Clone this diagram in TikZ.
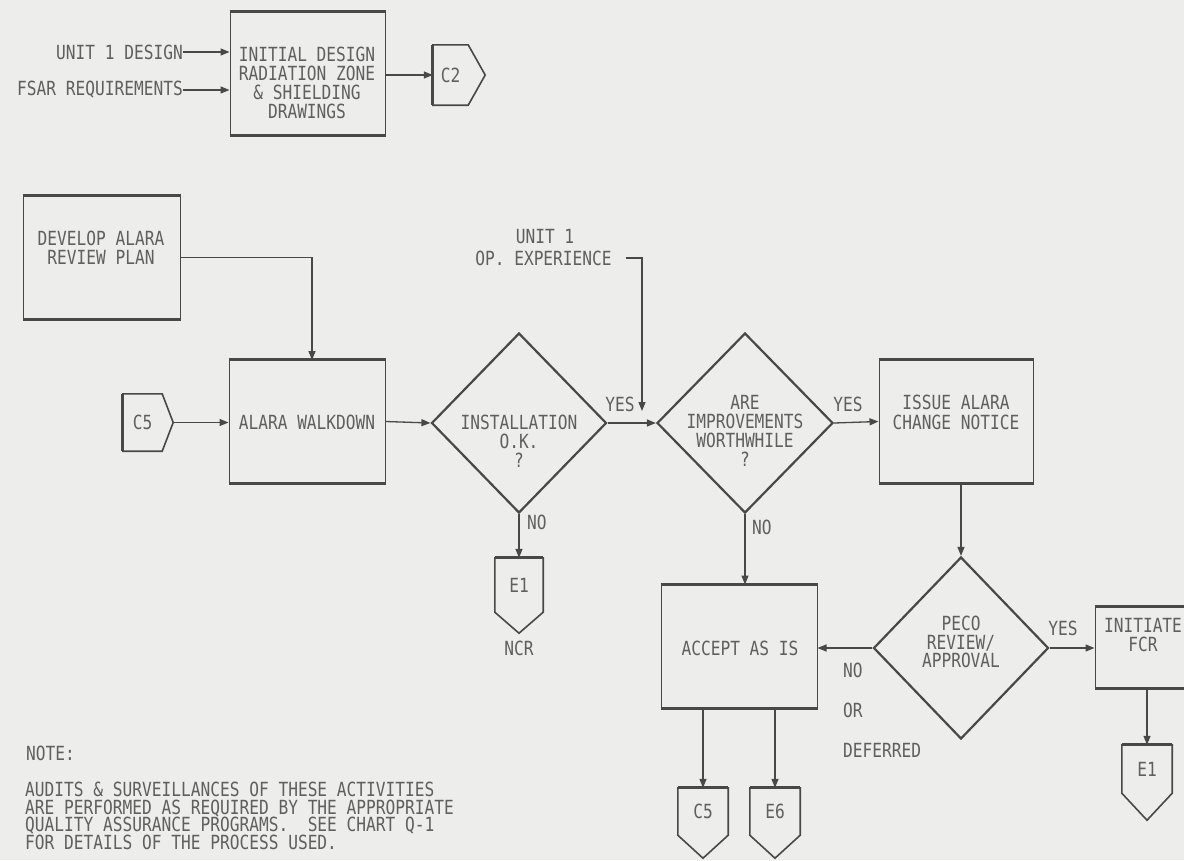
\documentclass[tikz,border=0pt]{standalone}
\usepackage{fontspec}
\newfontfamily\plotfont[FakeStretch=0.83]{DejaVu Sans Mono}
\usetikzlibrary{shapes.geometric,arrows.meta,calc}
\definecolor{bgc}{RGB}{237,237,235}
\definecolor{linec}{RGB}{72,72,72}
\definecolor{txtc}{RGB}{95,95,95}
\newcommand\PentRight[2]{%
  \draw[pent] (#1.north west) -- (#1.north east) -- ($(#1.east)+(#2,0)$) -- (#1.south east) -- (#1.south west) -- cycle;
  \draw[rim] (#1.north west) -- (#1.south west);}
\newcommand\PentDown[2]{%
  \draw[pent] (#1.north west) -- (#1.north east) -- (#1.south east) -- ($(#1.south)+(0,#2)$) -- (#1.south west) -- cycle;
  \draw[rim] (#1.north west) -- (#1.north east);}
\newcommand\BoxRims[1]{%
  \draw[rim] (#1.north west) -- (#1.north east);
  \draw[rim] (#1.south west) -- (#1.south east);}
\begin{document}
\begin{tikzpicture}[x=1pt,y=-1pt,
  txt/.style={font=\plotfont\fontsize{19.5}{19}\selectfont, text=txtc, inner sep=0pt, align=center},
  boxn/.style={draw=linec, line width=1pt, inner sep=0pt},
  rim/.style={draw=linec, line width=3pt},
  dia/.style={diamond, draw=linec, line width=2.2pt, inner sep=0pt},
  arr/.style={draw=linec, line width=1.3pt, -{Triangle[length=9pt,width=7pt]}},
  conn/.style={rectangle, inner sep=0pt, font=\plotfont\fontsize{19.5}{19}\selectfont, text=txtc},
  pent/.style={draw=linec, line width=1.6pt}]
\useasboundingbox (0,0) rectangle (1184,860);
\fill[bgc] (0,0) rectangle (1184,860);
\clip (0,0) rectangle (1184,860);

% top section
\node[txt, anchor=east] (unit) at (183,52) {UNIT 1 DESIGN};
\node[txt, anchor=east] (fsar) at (183,90) {FSAR REQUIREMENTS};
\node[boxn, minimum width=155, minimum height=123] (b0) at (307.5,73.5) {};
\BoxRims{b0}
\node[txt] (b0t) at (307,83) {INITIAL DESIGN\\RADIATION ZONE\\\& SHIELDING\\DRAWINGS};
\draw[arr] (unit.east) -- (unit.east -| b0.west);
\draw[arr] (fsar.east) -- (fsar.east -| b0.west);
\node[conn, minimum width=35, minimum height=60] (c2) at (450.5,75) {C2};
\PentRight{c2}{17}
\draw[arr] (b0.east |- c2.west) -- (c2.west);

% develop and walkdown
\node[boxn, minimum width=157, minimum height=123] (dev) at (101.5,257.5) {};
\BoxRims{dev}
\node[txt] (devt) at (101,248) {DEVELOP ALARA\\REVIEW PLAN};
\node[boxn, minimum width=156, minimum height=123] (walk) at (307,421.5) {};
\BoxRims{walk}
\node[txt] (walkt) at (307,422) {ALARA WALKDOWN};
\coordinate (walkin) at (312,360);
\draw[arr] (dev.east) -| (walkin);
\node[conn, minimum width=39, minimum height=57] (c5a) at (142.5,422.5) {C5};
\PentRight{c5a}{11}
\draw[arr] ($(c5a.east)+(11,0)$) -- (c5a.east -| walk.west);

% decisions
\node[dia, minimum width=175, minimum height=180] (d1) at (519,423) {};
\node[txt] (d1t) at (519,441) {INSTALLATION\\O.K.\\?};
\node[dia, minimum width=176, minimum height=180] (d2) at (745,423) {};
\node[txt] (d2t) at (745,431) {ARE\\IMPROVEMENTS\\WORTHWHILE\\?};
\draw[arr] (walk.east) -- (d1.west);
\draw[arr] (d1.east) -- (d2.west);
\node[txt] (yes1) at (620,404) {YES};
\node[txt] (unit1) at (545,237) {UNIT 1};
\node[txt] (opx) at (543.5,258) {OP. EXPERIENCE};
\coordinate (opin) at (642,411);
\draw[arr] ($(opx.east)+(14,0)$) -| (opin);

% E1 / NCR
\node[conn, minimum width=48, minimum height=54] (e1a) at (519,585) {E1};
\PentDown{e1a}{21}
\draw[arr] (d1.south) -- (e1a.north);
\node[txt, anchor=west] (no1) at (527,522) {NO};
\node[txt] (ncr) at (519,648) {NCR};

% issue
\node[boxn, minimum width=154, minimum height=123] (iss) at (956,421.5) {};
\BoxRims{iss}
\node[txt, font=\plotfont\fontsize{19.5}{20}\selectfont] (isst) at (956,412) {ISSUE ALARA\\CHANGE NOTICE};
\draw[arr] (d2.east) -- (iss.west);
\node[txt] (yes2) at (848,404) {YES};

% PECO
\node[dia, minimum width=175, minimum height=182] (d3) at (961,648) {};
\node[txt, font=\plotfont\fontsize{19.5}{18.5}\selectfont] (d3t) at (961,642) {PECO\\REVIEW/\\APPROVAL};
\draw[arr] (iss.south -| d3.north) -- (d3.north);

% accept
\node[boxn, minimum width=156, minimum height=123] (acc) at (739,646.5) {};
\BoxRims{acc}
\node[txt] (acct) at (740,648) {ACCEPT AS IS};
\draw[arr] (d2.south) -- (d2.south |- acc.north);
\node[txt, anchor=west] (no2) at (752,527) {NO};
\draw[arr] (d3.west) -- (d3.west -| acc.east);
\node[txt, anchor=west] (no3) at (843,670) {NO};
\node[txt, anchor=west] (or3) at (843,710) {OR};
\node[txt, anchor=west] (def3) at (843,750) {DEFERRED};

% initiate
\node[boxn, minimum width=105, minimum height=81] (init) at (1147.5,647.5) {};
\BoxRims{init}
\node[txt] (initt) at (1143,635) {INITIATE\\FCR};
\draw[arr] (d3.east) -- (d3.east -| init.west);
\node[txt] (yes3) at (1063,628) {YES};
\node[conn, minimum width=50, minimum height=48] (e1b) at (1147,769) {E1};
\PentDown{e1b}{27}
\draw[arr] (init.south -| e1b.north) -- (e1b.north);

% accept outputs
\node[conn, minimum width=50, minimum height=47] (c5b) at (703,811.5) {C5};
\PentDown{c5b}{23}
\node[conn, minimum width=50, minimum height=47] (e6) at (775,811.5) {E6};
\PentDown{e6}{23}
\draw[arr] (acc.south -| c5b.north) -- (c5b.north);
\draw[arr] (acc.south -| e6.north) -- (e6.north);

% note
\node[txt, anchor=west] (note) at (26,753) {NOTE:};
\node[txt, anchor=west, align=left, font=\plotfont\fontsize{19.5}{17.5}\selectfont] (notet) at (25,816) {AUDITS \& SURVEILLANCES OF THESE ACTIVITIES\\ARE PERFORMED AS REQUIRED BY THE APPROPRIATE\\QUALITY ASSURANCE PROGRAMS.\ \ SEE CHART Q-1\\FOR DETAILS OF THE PROCESS USED.};
\end{tikzpicture}
\end{document}
